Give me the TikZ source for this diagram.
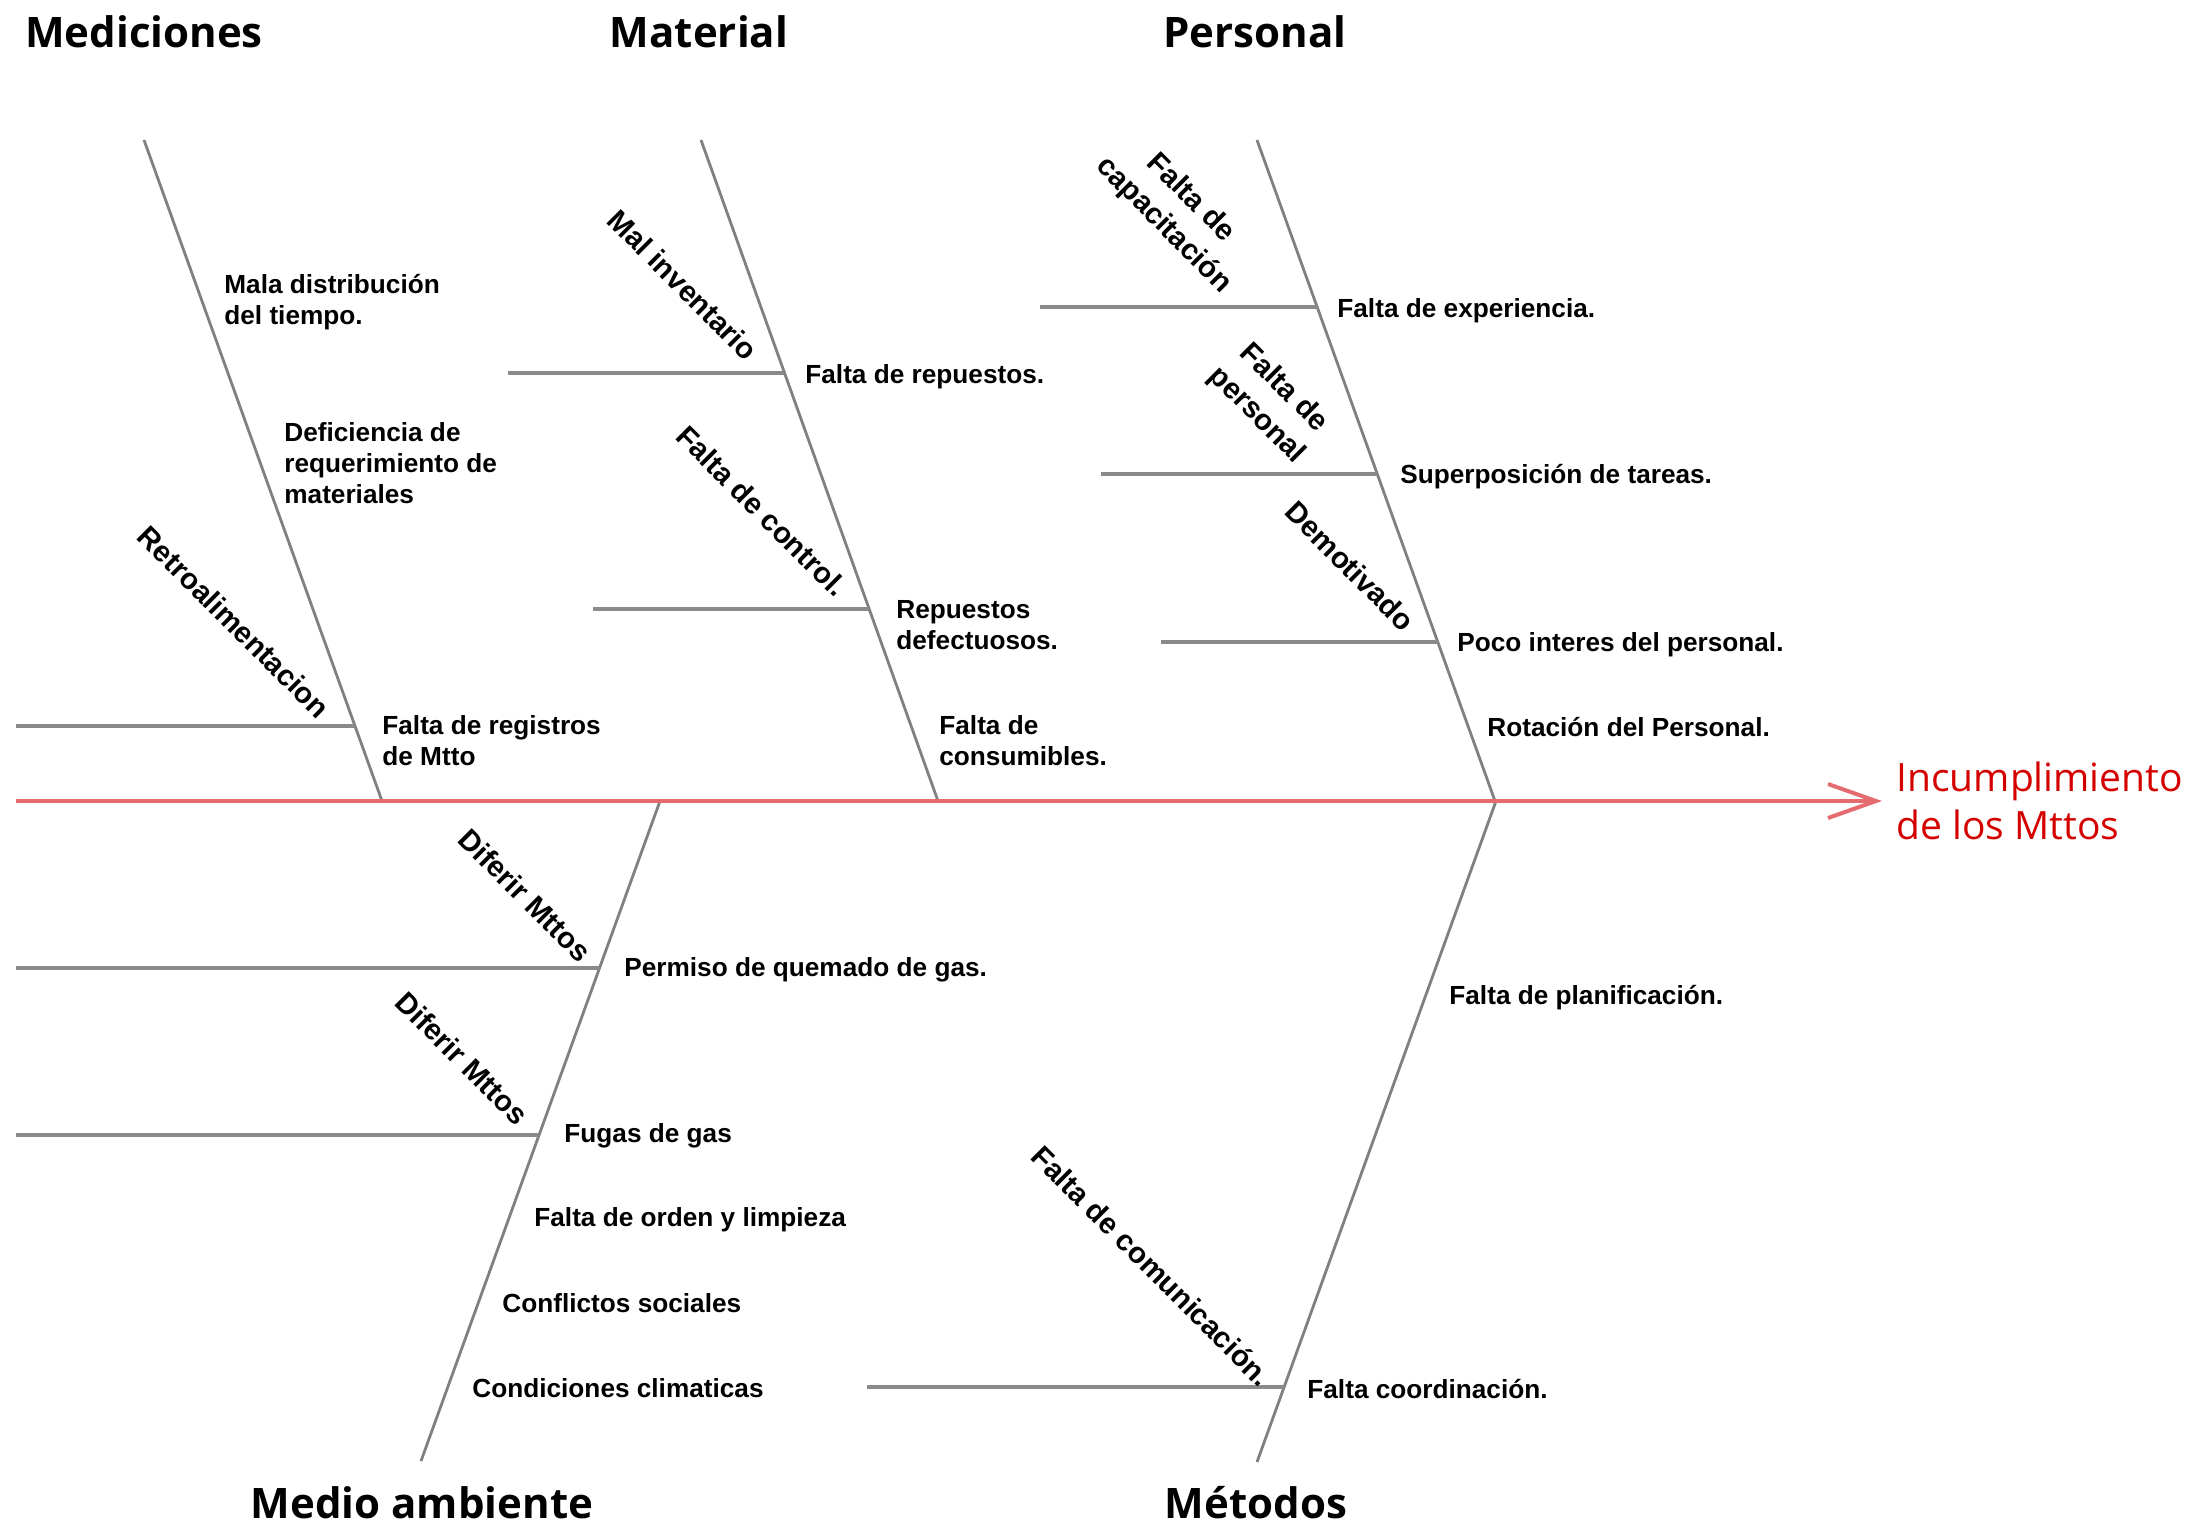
\documentclass[tikz,border=0pt]{standalone}
\usepackage{fontspec}
\setmainfont{Liberation Sans}
\newfontfamily\titlefont{Open Sans}
\usetikzlibrary{arrows.meta}
\definecolor{spinered}{RGB}{228,108,112}
\definecolor{effectred}{RGB}{212,0,0}
\definecolor{bonegray}{RGB}{128,128,128}
\definecolor{subgray}{RGB}{138,138,138}
\begin{document}
\begin{tikzpicture}[x=0.5pt,y=-0.5pt,
  bone/.style={draw=bonegray, line width=1.4pt},
  subline/.style={draw=subgray, line width=2.2pt},
  spine/.style={draw=spinered, line width=2pt, -{Straight Barb[length=24pt,width=17pt,line width=2pt]}},
  lab/.style={anchor=west, inner sep=0pt, align=left, font=\bfseries\fontsize{13.1}{15.5}\selectfont},
  rotlab/.style={rotate=-45, inner sep=0pt, align=center, font=\bfseries\fontsize{14.7}{19}\selectfont},
  ttl/.style={inner sep=0pt, font=\titlefont\bfseries\fontsize{21}{25}\selectfont},
  effect/.style={anchor=west, inner sep=0pt, align=left, text=effectred, font=\titlefont\fontsize{19.5}{24}\selectfont}]
\useasboundingbox (0,0) rectangle (2193,1528);

% titles
\node[ttl] (tMed) at (144,32) {Mediciones};
\node[ttl] (tMat) at (699,32) {Material};
\node[ttl] (tPer) at (1255,32) {Personal};
\node[ttl] (tAmb) at (422,1503) {Medio ambiente};
\node[ttl] (tMet) at (1256,1503) {Métodos};

% spine
\coordinate (sL) at (16,801);
\coordinate (sR) at (1882,801);
\node[effect] (eff) at (1896,801) {Incumplimiento\\de los Mttos};

% bone end points
\coordinate (medT) at (144,140);  \coordinate (medB) at (382,801);
\coordinate (matT) at (701,140);  \coordinate (matB) at (938,801);
\coordinate (perT) at (1257,140); \coordinate (perB) at (1495,801);
\coordinate (ambT) at (660,801);  \coordinate (ambB) at (421,1461);
\coordinate (metT) at (1496,801); \coordinate (metB) at (1257,1462);

\draw[bone] (medT) -- (medB);
\draw[bone] (matT) -- (matB);
\draw[bone] (perT) -- (perB);
\draw[bone] (ambT) -- (ambB);
\draw[bone] (metT) -- (metB);

% sub branches: junction (j) and free end (f)
\coordinate (fRet) at (16,726);   \coordinate (jRet) at (355,726);
\coordinate (fInv) at (508,373);  \coordinate (jInv) at (784,373);
\coordinate (fCtl) at (593,609);  \coordinate (jCtl) at (869,609);
\coordinate (fCap) at (1040,307); \coordinate (jCap) at (1317,307);
\coordinate (fPer) at (1101,474); \coordinate (jPer) at (1377,474);
\coordinate (fDem) at (1161,642); \coordinate (jDem) at (1438,642);
\coordinate (fDi1) at (16,968);   \coordinate (jDi1) at (599,968);
\coordinate (fDi2) at (16,1135);  \coordinate (jDi2) at (539,1135);
\coordinate (fCom) at (867,1387); \coordinate (jCom) at (1284,1387);

\foreach \n in {Ret,Inv,Ctl,Cap,Per,Dem,Di1,Di2,Com}
  \draw[subline] (f\n) -- (j\n);

\draw[spine] (sL) -- (sR);

% rotated sub-branch labels
\node[rotlab] (rRet) at (234,622) {Retroalimentacion};
\node[rotlab] (rInv) at (683,285) {Mal inventario};
\node[rotlab] (rCtl) at (762,511) {Falta de control.};
\node[rotlab] (rCap) at (1177,212) {Falta de\\capacitación};
\node[rotlab] (rPer) at (1270,402) {Falta de\\personal};
\node[rotlab] (rDem) at (1350,566) {Demotivado};
\node[rotlab] (rDi1) at (525,895) {Diferir Mttos};
\node[rotlab] (rDi2) at (462,1058) {Diferir Mttos};
\node[rotlab] (rCom) at (1152,1266) {Falta de comunicación.};

% cause labels
\node[lab] (lMala) at (224,302) {Mala distribución\\del tiempo.};
\node[lab] (lDef) at (284,463) {Deficiencia de\\requerimiento de\\materiales};
\node[lab] (lReg) at (382,741) {Falta de registros\\de Mtto};
\node[lab] (lRep) at (805,377) {Falta de repuestos.};
\node[lab] (lDefe) at (896,625) {Repuestos\\defectuosos.};
\node[lab] (lCons) at (939,741) {Falta de\\consumibles.};
\node[lab] (lExp) at (1337,311) {Falta de experiencia.};
\node[lab] (lSup) at (1400,477) {Superposición de tareas.};
\node[lab] (lPoco) at (1457,645) {Poco interes del personal.};
\node[lab] (lRot) at (1487,727) {Rotación del Personal.};
\node[lab] (lPerm) at (624,970) {Permiso de quemado de gas.};
\node[lab] (lFug) at (564,1136) {Fugas de gas};
\node[lab] (lOrd) at (534,1220) {Falta de orden y limpieza};
\node[lab] (lConf) at (502,1303) {Conflictos sociales};
\node[lab] (lClim) at (472,1388) {Condiciones climaticas};
\node[lab] (lPlan) at (1449,998) {Falta de planificación.};
\node[lab] (lCoor) at (1307,1389) {Falta coordinación.};
\end{tikzpicture}
\end{document}
